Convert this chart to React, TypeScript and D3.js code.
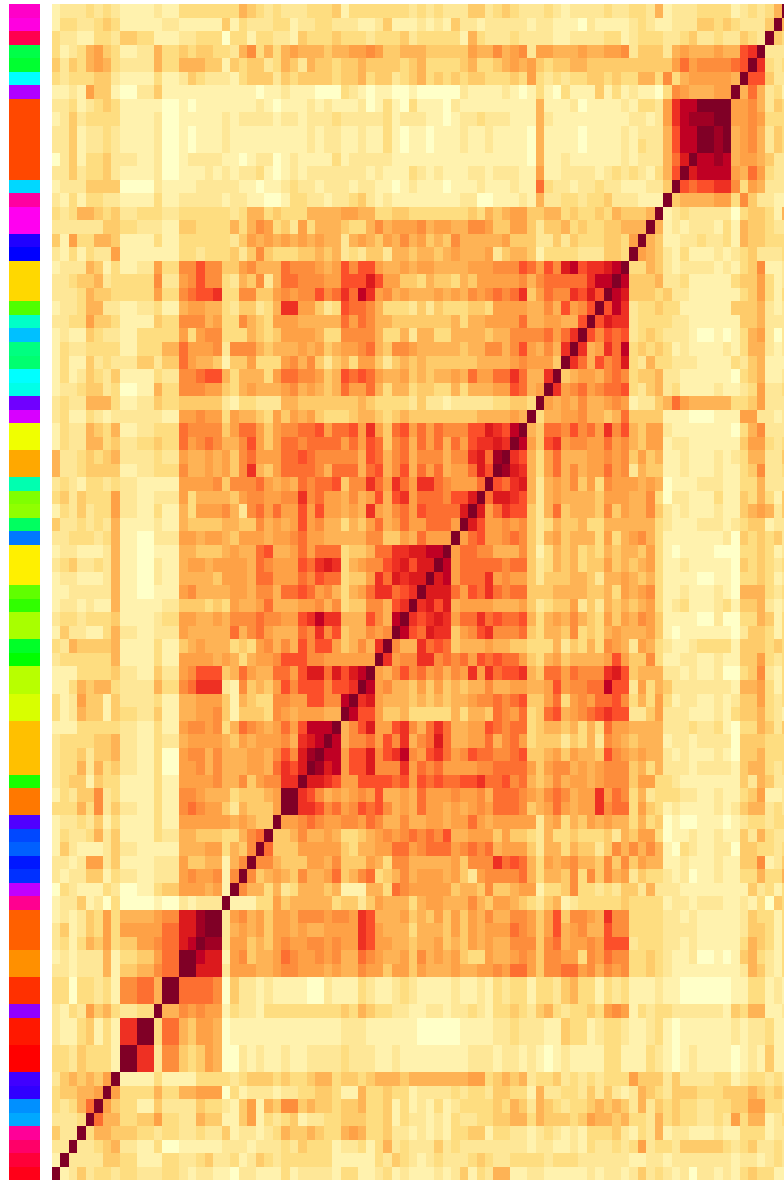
import React from "react";
import * as d3 from "d3";

const W = 784;
const H = 1180;

// colour-strip value of each row, top to bottom
const rowColors: string[] = [
  "#ff00c8","#ff00e0","#ff0050","#00ff48","#00ff30","#00ffff","#b000ff",
  "#ff4800","#ff4800","#ff4800","#ff4800","#ff4800","#ff4800","#00d8ff",
  "#ff00a0","#ff00f0","#ff00f0","#2000ff","#0000ff","#ffd800","#ffd800","#ffd800",
  "#50ff00","#00ffc8","#00c0ff","#00ff80","#00ff70","#00ffff","#00ffe8",
  "#7000ff","#d800ff","#f0ff00","#f0ff00","#ffa800","#ffa800","#00ffb0",
  "#80ff00","#90ff00","#00ff60","#0078ff","#fff000","#fff000","#fff000",
  "#60ff00","#30ff00","#a8ff00","#a8ff00","#00ff28","#00ff00","#b8ff00","#b8ff00",
  "#d8ff00","#d8ff00","#ffc000","#ffc000","#ffc000","#ffc000","#18ff00",
  "#ff7800","#ff7800","#5000ff","#0048ff","#0060ff","#0018ff","#0030ff",
  "#c000ff","#ff0090","#ff6000","#ff6000","#ff6000","#ff9000","#ff9000",
  "#ff3000","#ff3000","#9000ff","#ff1800","#ff1800","#ff0000","#ff0000",
  "#4000ff","#3000ff","#0090ff","#00a8ff","#ff0098","#ff0068","#ff0038","#ff0018",
];

// colour levels of the heat map, low to high
const levelKeys = "0123456789abcde".split("");
const levelColors = [
  "#ffffc8","#fff2ae","#fee797","#fedd80","#fecb6a","#feb355","#fea146","#fd8d3c",
  "#fd6f31","#fc4f2a","#ee3023","#dc1a1d","#c00024","#a00024","#800026",
];

// upper-left triangle of the symmetric matrix, one level per cell, read row by row
const triangle: string[] = [
  "1222323211 1121133333 3354323222 3334133333 3323232224 4234322232 1222232233 2512223333 123235",
  "1332234311 1112211111 4132223312 2332221124 1112121422 1222221221 1102111123 2112224434 32224",
  "3221133244 3311122333 0331332214 3334333233 3423333315 3222322221 1222233123 3322342232 2432",
  "3123564311 2253343443 3257353565 5545566764 4555444446 5575672665 5565566724 4425655565 59a",
  "4243565322 2253355544 1434423542 5443445444 4345333345 3345656434 4554444444 4446867777 89",
  "3233344211 1131124322 2134442434 4443445344 2345343434 4333436323 2334434335 5373566666 5",
  "1121644100 2241111111 1111011211 1000321011 0010000021 1112101310 3111413121 1037655566",
  "2231234311 1110010111 1111210111 2121112013 1031110211 1111111511 1201111213 326acceee",
  "1242333311 1120011111 2122221221 2223222223 1222110122 3222111521 1111111122 126acddd",
  "2241223211 1120010111 2111111111 2122112113 1011011121 1211110511 1101111212 2259cce",
  "2241223211 1120010111 2111111111 2122112113 1011011121 1211110511 1101111213 2259cc",
  "0241334222 1120012222 1101220121 1113122222 1111111111 1111110511 2111111212 2258b",
  "2242334211 1120011121 2122310121 2222222121 1132121112 2122211611 2222123232 1359",
  "1222444400 0021111222 2211011232 2122212211 0121110111 2111211832 2122322111 224",
  "2131332211 1131122222 1221100133 2212234212 1111111122 0011121522 3323342221 11",
  "3235543422 3332233333 3235534333 5555665533 4433333334 3545664455 3433435444 5",
  "2222224433 2221144333 3535763426 3555433575 6667566557 7644664244 5343344555",
  "4163355411 1131133333 3246565656 5655256546 5756454755 5556444224 243334436",
  "2131322611 1111133233 3424743334 4545232442 5545545655 5624554133 33222443",
  "1222541311 2263377977 4467555877 7656979965 5656655556 6677798697 bc9aabc",
  "2234452333 3372267977 3254725887 7766999b96 6443544354 6666675788 888acc",
  "2223544333 336337899a 3377446767 7978a8ca67 5655565657 67878a4687 7a9b9",
  "1223552211 2231156655 3244235aa6 6423988753 3324243334 4366665575 9679",
  "2233644311 1143377756 3375436665 5555868755 4444444535 5666685566 559",
  "1211432211 3333363677 3335434666 6533777753 3525533555 5455777786 8a",
  "1322333311 3335586667 2777545556 5645667854 7765555545 5775796575 a",
  "1311423222 4424486554 1446333675 7424536642 4545444444 5555676664",
  "1312432411 1132277899 5355536887 7645989865 5645455658 6688a855a",
  "1223442300 1153377766 4356555675 6545866853 5534433535 55669856",
  "2322555311 2243344444 2133222554 4444445433 3324221222 2233443",
  "2311321222 2221166766 3655436465 6433345543 4544444444 555565",
  "1322543511 2233387777 4688646778 8968896a64 8968687779 9ba9c",
  "1322553422 3343386787 5579646887 8888686984 7858685869 aaba",
  "5223434522 2232265565 6478666889 8777775985 785777577a b8d",
  "5223444411 2233375565 647a546888 8758885895 7958685668 b9",
  "2321332322 1111166667 4777865658 7889477a86 a86aa87666 8",
  "3424333622 1122263555 546776677a 7866575695 9a6888799b",
  "1324233622 1131153666 7527868669 6966565a65 78698888b",
  "4223232511 1121154444 5544756569 6755354685 68668886",
  "2233323511 0022266566 5466656678 6655555774 4658666",
  "1221112511 0011155444 5655895568 6888344588 aabbcc",
  "2342232511 0021156656 6665876669 8aba356779 ab9bb",
  "1221112511 0021155554 6665886668 79883446a8 babb",
  "1122222511 0011167555 5665775889 86753568aa 89a",
  "1221211511 1112244434 3655685556 6757344775 9a",
  "2332333411 1123366556 5777877669 acaa555975 c",
  "1422113522 1122265555 5857865558 7a79455767",
  "3254444511 1131145655 5343675759 79964575a",
  "2333333511 1131166665 6535667999 77666666",
  "1113333422 1142267999 4586558869 bb8b9bc",
  "1135455322 2253378aaa 2174546979 99799a",
  "3126441422 2231155666 4154337766 9977c",
  "3125441433 2241155667 4144437656 6655",
  "1113333322 1131167767 3587656869 ccc",
  "2333344522 1132256666 546566675a bc",
  "2334244522 1130067757 555665797b d",
  "2335253422 1130066757 5556658a9b",
  "2344143311 1131166667 5574677aa",
  "1324472311 1131177655 5344456e",
  "3335372422 1131178766 4254446",
  "1223241311 1131166666 656544",
  "1322352411 1132255444 33578",
  "1421112422 1111155566 3547",
  "2212662411 1122264455 157",
  "2122441322 1122267667 17",
  "0321113200 1134466656 1",
  "1224120300 0010021222",
  "1212436355 55677bbde",
  "2412436366 66688bbd",
  "2313546344 66788bc",
  "1212225133 44688e",
  "2212225144 55788",
  "3303323177 885e",
  "3303323177 885",
  "2132645322 33",
  "21134131aa e",
  "21134131aa",
  "33243331e",
  "33243331",
  "2454546",
  "344556",
  "32358",
  "2223",
  "422",
  "22",
  "1",
  "",
];

const DIAGONAL_LEVEL = "e";

export default function App() {
  const n = rowColors.length;
  const rows = triangle.map((s) => s.replace(/ /g, ""));
  const level = (r: number, c: number): string => {
    const last = n - 1;
    if (r + c === last) return DIAGONAL_LEVEL;
    if (r + c < last) return rows[r][c] ?? "3";
    return rows[last - c][last - r] ?? "3";
  };

  const x = d3.scaleLinear().domain([0, n]).range([52, 52 + n * 8.49]);
  const y = d3.scaleLinear().domain([0, n]).range([4, 4 + n * 13.52]);
  const color = d3.scaleOrdinal<string, string>().domain(levelKeys).range(levelColors);

  const cells = d3.range(n).flatMap((r) => d3.range(n).map((c) => ({ r, c })));

  return (
    <svg
      width={W}
      height={H}
      viewBox={`0 0 ${W} ${H}`}
      style={{ position: "absolute", left: 0, top: 0, background: "#fff" }}
      shapeRendering="crispEdges"
    >
      <g>
        {rowColors.map((col, r) => {
          const y0 = Math.round(y(r));
          const y1 = Math.round(y(r + 1));
          return <rect key={r} x={9} y={y0} width={31} height={y1 - y0} fill={col} />;
        })}
      </g>
      <g>
        {cells.map(({ r, c }) => {
          const x0 = Math.round(x(c));
          const x1 = Math.round(x(c + 1));
          const y0 = Math.round(y(r));
          const y1 = Math.round(y(r + 1));
          return (
            <rect
              key={`${r}-${c}`}
              x={x0}
              y={y0}
              width={x1 - x0}
              height={y1 - y0}
              fill={color(level(r, c))}
            />
          );
        })}
      </g>
    </svg>
  );
}
